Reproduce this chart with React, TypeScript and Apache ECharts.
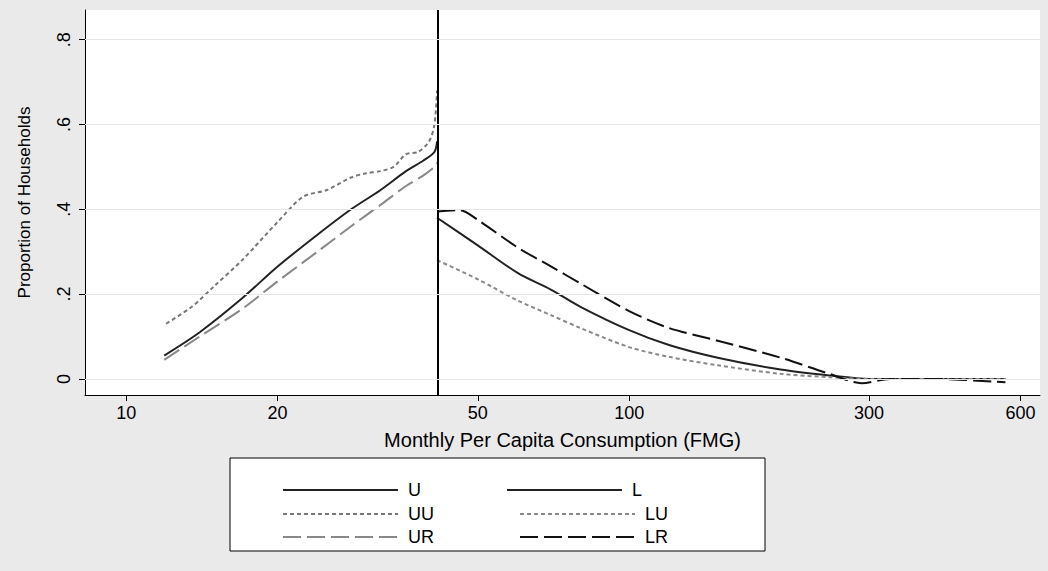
import React, { useEffect, useRef } from "react";
import * as echarts from "echarts";

const xTicks = [10, 20, 50, 100, 300, 600];
const yTicks = [0, 0.2, 0.4, 0.6, 0.8];
const cutoff = 41.5;

const uX = [11.9, 14, 17, 20, 24, 28, 32, 36, 39, 41, 41.5];
const uY = [0.055, 0.11, 0.19, 0.265, 0.34, 0.4, 0.445, 0.49, 0.515, 0.535, 0.56];
const uuX = [12, 13.5, 15, 17, 20, 22.5, 25, 28, 30, 32, 34, 36, 38, 40, 41, 41.5];
const uuY = [0.13, 0.17, 0.22, 0.28, 0.37, 0.43, 0.445, 0.475, 0.485, 0.49, 0.5, 0.53, 0.535, 0.56, 0.6, 0.68];
const urX = [11.9, 14, 17, 20, 24, 28, 32, 36, 39, 41, 41.5];
const urY = [0.045, 0.1, 0.165, 0.23, 0.3, 0.36, 0.41, 0.455, 0.48, 0.5, 0.51];
const lX = [41.5, 50, 60, 70, 80, 100, 120, 150, 200, 250, 300, 400, 560];
const lY = [0.38, 0.315, 0.25, 0.21, 0.17, 0.115, 0.08, 0.05, 0.022, 0.008, 0.0, 0.0, 0.0];
const luX = [41.5, 50, 60, 70, 80, 100, 120, 150, 200, 250, 300, 400, 560];
const luY = [0.28, 0.235, 0.185, 0.15, 0.12, 0.075, 0.052, 0.032, 0.012, 0.004, 0.0, 0.0, 0.0];
const lrX = [41.5, 46, 50, 60, 70, 80, 100, 120, 150, 200, 250, 290, 330, 400, 560];
const lrY = [0.395, 0.398, 0.375, 0.31, 0.265, 0.225, 0.16, 0.12, 0.09, 0.05, 0.012, -0.01, 0.0, 0.0, -0.008];

const toPts = (xs: number[], ys: number[]) => xs.map((x, i) => [Math.log10(x), ys[i]]);

const App: React.FC = () => {
  const ref = useRef<HTMLDivElement>(null);

  useEffect(() => {
    document.body.style.margin = "0";
    if (!ref.current) return;
    const chart = echarts.init(ref.current, undefined, { renderer: "svg" });
    const font = "Liberation Sans";
    const mk = (name: string, xs: number[], ys: number[], color: string, type: any) => ({
      name,
      type: "line",
      data: toPts(xs, ys),
      symbol: "none",
      smooth: 0.3,
      lineStyle: { color, width: 2, type },
      itemStyle: { color },
    });
    const legendRow = (names: string[], top: number) => ({
      data: names,
      left: 277,
      top,
      itemWidth: 115,
      itemHeight: 14,
      itemGap: 85,
      itemStyle: { opacity: 0 },
      textStyle: { fontFamily: font, fontSize: 18, color: "#000", width: 40, padding: [0, 0, 0, 5] },
    });
    chart.setOption({
      animation: false,
      backgroundColor: "#eaeaea",
      grid: { left: 85, right: 8, top: 10, bottom: 176, show: true, backgroundColor: "#fff", borderWidth: 0 },
      xAxis: {
        type: "value",
        min: Math.log10(8.28),
        max: Math.log10(656),
        name: "Monthly Per Capita Consumption (FMG)",
        nameLocation: "middle",
        nameGap: 35,
        nameTextStyle: { fontFamily: font, fontSize: 20, color: "#000" },
        axisLine: { onZero: false, lineStyle: { color: "#000" } },
        axisTick: { show: true, customValues: xTicks.map((v) => Math.log10(v)), length: 6, lineStyle: { color: "#000" } },
        axisLabel: {
          customValues: xTicks.map((v) => Math.log10(v)),
          formatter: (v: number) => String(Math.round(Math.pow(10, v))),
          fontFamily: font,
          fontSize: 18,
          color: "#000",
          margin: 9,
        },
        splitLine: { show: false },
      },
      yAxis: {
        type: "value",
        min: -0.038,
        max: 0.87,
        name: "Proportion of Households",
        nameLocation: "middle",
        nameGap: 52,
        nameTextStyle: { fontFamily: font, fontSize: 17, color: "#000" },
        axisLine: { show: true, onZero: false, lineStyle: { color: "#000" } },
        axisTick: { show: true, customValues: yTicks, length: 6, lineStyle: { color: "#000" } },
        axisLabel: {
          customValues: yTicks,
          rotate: 90,
          formatter: (v: number) => (v === 0 ? "0" : String(v).replace(/^0/, "")),
          fontFamily: font,
          fontSize: 18,
          color: "#000",
          margin: 12,
        },
        splitLine: { show: false },
      },
      legend: [
        legendRow(["U", "L"], 476),
        legendRow(["UU", "LU"], 500),
        legendRow(["UR", "LR"], 523),
      ],
      graphic: [
        { type: "rect", shape: { x: 230, y: 458, width: 535, height: 93 }, style: { fill: "#fff", stroke: "#000", lineWidth: 1 }, z: -1 },
      ],
      series: [
        {
          type: "line",
          data: [],
          markLine: {
            silent: true,
            symbol: "none",
            label: { show: false },
            lineStyle: { color: "#000", width: 2, type: "solid" },
            data: [{ xAxis: Math.log10(cutoff) }],
          },
        },
        {
          type: "line",
          data: [],
          markLine: {
            silent: true,
            symbol: "none",
            label: { show: false },
            lineStyle: { color: "#e6e6e6", width: 1, type: "solid" },
            data: [{ yAxis: 0 }, { yAxis: 0.2 }, { yAxis: 0.4 }, { yAxis: 0.6 }, { yAxis: 0.8 }],
          },
          z: 0,
        },
        mk("U", uX, uY, "#222", "solid"),
        mk("L", lX, lY, "#222", "solid"),
        mk("UU", uuX, uuY, "#777", [4, 3]),
        mk("LU", luX, luY, "#888", [4, 3]),
        mk("UR", urX, urY, "#888", [18, 6]),
        mk("LR", lrX, lrY, "#111", [18, 6]),
      ],
    });
    return () => chart.dispose();
  }, []);

  return <div ref={ref} style={{ width: 1048, height: 571 }} />;
};

export default App;
